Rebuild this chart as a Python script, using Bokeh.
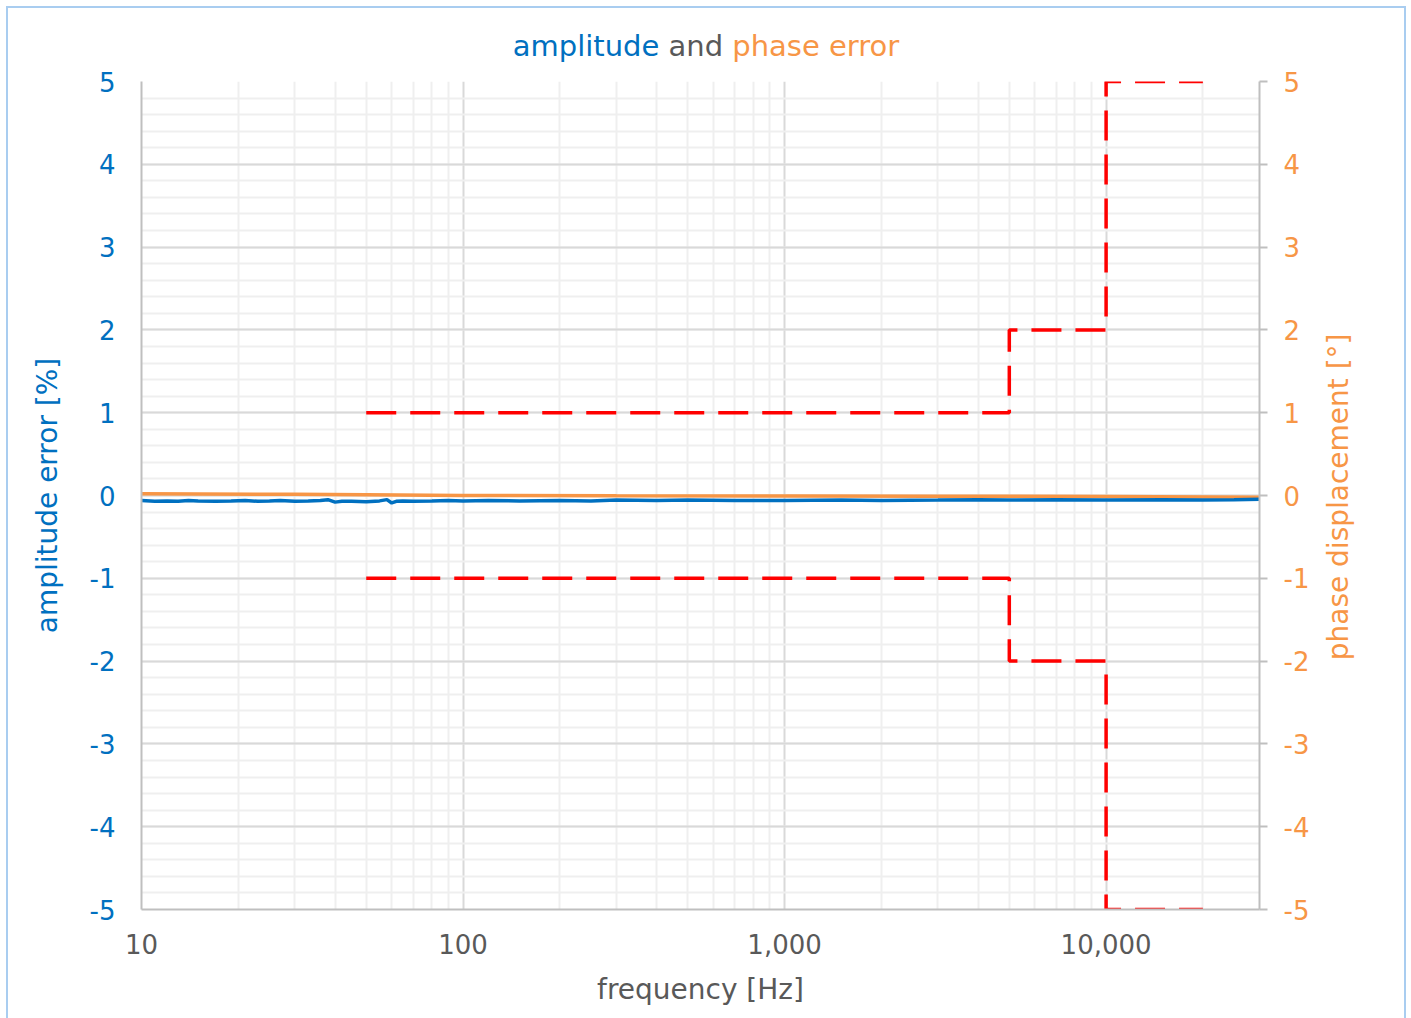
import math
from bokeh.plotting import figure
from bokeh.models import (Range1d, LinearAxis, FixedTicker, Div)
from bokeh.layouts import column
from bokeh.embed import file_html
from bokeh.resources import INLINE

FONT = "DejaVu Sans"
BLUE = "#0070C0"
ORANGE = "#F79646"
GRAY = "#595959"

# --- data ---
freq_amp = [10, 11, 12, 13, 14, 15, 17, 19, 21, 23, 25, 27, 30, 33, 36, 38, 40, 42, 45, 50,
            55, 58, 60, 62, 65, 70, 80, 90, 100, 120, 150, 200, 250, 300, 400, 500, 700,
            1000, 1500, 2000, 3000, 4000, 5000, 7000, 10000, 15000, 20000, 25000, 30000]
amp_err = [-0.06, -0.07, -0.065, -0.07, -0.06, -0.065, -0.07, -0.065, -0.06, -0.07, -0.065,
           -0.06, -0.07, -0.065, -0.06, -0.05, -0.08, -0.07, -0.07, -0.075,
           -0.065, -0.05, -0.09, -0.07, -0.065, -0.07, -0.065, -0.06, -0.065, -0.06, -0.065,
           -0.06, -0.065, -0.055, -0.06, -0.055, -0.06, -0.06, -0.055, -0.06, -0.055, -0.05,
           -0.055, -0.05, -0.055, -0.05, -0.055, -0.05, -0.045]

freq_phase = [10, 30, 50, 100, 300, 1000, 3000, 10000, 30000]
phase_err = [0.02, 0.015, 0.01, 0.0, -0.003, -0.005, -0.008, -0.012, -0.02]

tol_freq = [50, 5000, 5000, 10000, 10000, 20000]
tol_upper = [1, 1, 2, 2, 5, 5]
tol_lower = [-1, -1, -2, -2, -5, -5]

x_ticks = [10, 100, 1000, 10000]
x_tick_labels = ["10", "100", "1,000", "10,000"]
x_minor = [m * d for d in (10, 100, 1000) for m in range(2, 10)] + [20000]
y_ticks = [-5, -4, -3, -2, -1, 0, 1, 2, 3, 4, 5]
y_tick_labels = ["-5", "-4", "-3", "-2", "-1", "0", "1", "2", "3", "4", "5"]
y_minor = [round(-5 + 0.2 * i, 1) for i in range(51)]

title_parts = [("amplitude", BLUE), ("and", GRAY), ("phase error", ORANGE)]
right_label = "phase displacement [°]"

W = 1396
DIV_H = 60
p = figure(width=W, height=1010 - DIV_H, x_axis_type="log",
           x_range=Range1d(10, 30000), y_range=Range1d(-5, 5),
           output_backend="svg", toolbar_location=None,
           min_border_left=133, min_border_right=145,
           min_border_top=73 - DIV_H, min_border_bottom=109)
p.extra_y_ranges = {"phase": Range1d(-5, 5)}
p.outline_line_color = None
p.background_fill_color = "white"
p.border_fill_color = "white"

xt = FixedTicker(ticks=x_ticks, minor_ticks=x_minor)
yt = FixedTicker(ticks=y_ticks, minor_ticks=y_minor)
y_over = {t: l for t, l in zip(y_ticks, y_tick_labels)}

# x axis
xa = p.xaxis[0]
xa.ticker = xt
xa.major_label_overrides = {t: l for t, l in zip(x_ticks, x_tick_labels)}
xa.axis_label = "frequency [Hz]"
xa.axis_label_text_font = FONT
xa.axis_label_text_font_size = "28px"
xa.axis_label_text_font_style = "normal"
xa.axis_label_text_color = GRAY
xa.major_label_text_font = FONT
xa.major_label_text_font_size = "26px"
xa.major_label_text_color = GRAY
xa.axis_line_color = "#BFBFBF"
xa.axis_line_width = 2
xa.major_tick_line_color = None
xa.minor_tick_line_color = None
xa.major_tick_out = 0
xa.minor_tick_out = 0
xa.major_label_standoff = 24
xa.axis_label_standoff = 16

# left axis
ya = p.yaxis[0]
ya.ticker = yt
ya.major_label_overrides = y_over
ya.axis_label = "amplitude error [%]"
ya.axis_label_text_font = FONT
ya.axis_label_text_font_size = "28px"
ya.axis_label_text_font_style = "normal"
ya.axis_label_text_color = BLUE
ya.major_label_text_font = FONT
ya.major_label_text_font_size = "26px"
ya.major_label_text_color = BLUE
ya.axis_line_color = "#BFBFBF"
ya.axis_line_width = 2
ya.major_tick_line_color = None
ya.minor_tick_line_color = None
ya.major_tick_out = 0
ya.minor_tick_out = 0
ya.major_label_standoff = 26
ya.axis_label_standoff = 23

# right axis (label reads bottom-to-top, anchored at the axis start)
ra = LinearAxis(y_range_name="phase", ticker=FixedTicker(ticks=y_ticks))
ra.major_label_overrides = y_over
ra.axis_label = "\u00a0" * 28 + right_label
ra.axis_label_orientation = math.pi / 2
ra.axis_label_align = "start"
ra.axis_label_text_font = FONT
ra.axis_label_text_font_size = "28px"
ra.axis_label_text_font_style = "normal"
ra.axis_label_text_color = ORANGE
ra.major_label_text_font = FONT
ra.major_label_text_font_size = "26px"
ra.major_label_text_color = ORANGE
ra.axis_line_color = "#BFBFBF"
ra.axis_line_width = 2
ra.major_tick_line_color = "#BFBFBF"
ra.major_tick_line_width = 2
ra.major_tick_out = 8
ra.major_tick_in = 0
ra.minor_tick_line_color = None
ra.minor_tick_out = 0
ra.major_label_standoff = 16
ra.axis_label_standoff = 26
p.add_layout(ra, "right")

# grids
p.xgrid.ticker = xt
p.ygrid.ticker = yt
for g in (p.xgrid[0], p.ygrid[0]):
    g.grid_line_color = "#D9D9D9"
    g.grid_line_width = 2
    g.minor_grid_line_color = "#EFEFEF"
    g.minor_grid_line_width = 2

# tolerance band
p.line(tol_freq, tol_upper, line_color="#FF0000", line_width=3.5, line_dash="30 14")
p.line(tol_freq, tol_lower, line_color="#FF0000", line_width=3.5, line_dash="30 14")

# phase and amplitude
p.line(freq_phase, phase_err, line_color=ORANGE, line_width=3.5, y_range_name="phase")
p.line(freq_amp, amp_err, line_color=BLUE, line_width=3.5)

# title in three colours
spans = " ".join(f'<span style="color:{c}">{t}</span>' for t, c in title_parts)
title = Div(text=f'<div style="width:{W}px; text-align:center; margin-top:19px; '
                 f'line-height:38px; font-family:\'{FONT}\'; font-size:29px; '
                 f'white-space:nowrap">{spans}</div>',
            width=W, height=DIV_H, styles={"margin": "0", "padding": "0"})

layout = column(title, p, spacing=0,
                styles={"border": "2px solid #A9CDF0", "margin-left": "6px",
                        "margin-top": "6px", "background-color": "white"})

open("out.html", "w").write(file_html(layout, INLINE))
